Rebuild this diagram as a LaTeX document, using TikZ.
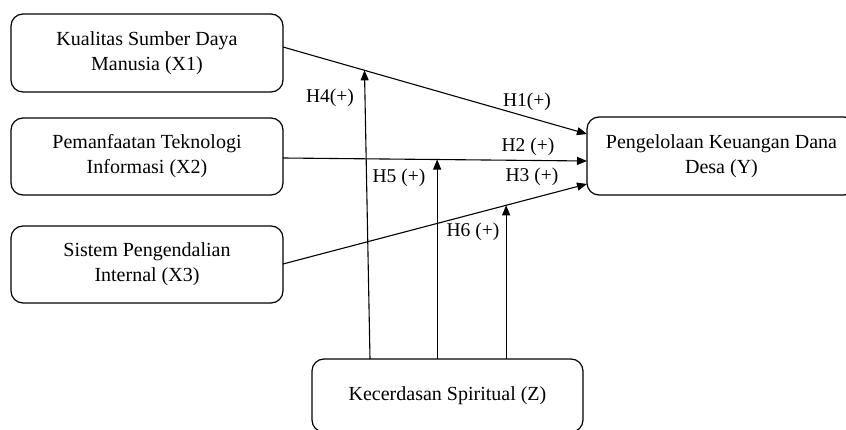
\documentclass[tikz,border=0pt]{standalone}
\usepackage{fontspec}
\setmainfont{Liberation Serif}
\usetikzlibrary{arrows.meta,calc}
\tikzset{
  varbox/.style={draw, line width=1.2pt, rounded corners=12pt, inner sep=0pt, outer sep=0pt,
    align=center, font=\fontsize{20}{25}\selectfont},
  arr/.style={line width=1.1pt, -{Triangle[length=10pt,width=8pt]}},
  hlabel/.style={font=\fontsize{19.5}{24}\selectfont, inner sep=0pt}
}
\begin{document}
\begin{tikzpicture}[x=1pt,y=-1pt]
\useasboundingbox (0,0) rectangle (846,430);
\begin{scope}
\clip (0,0) rectangle (846,430);
\node[varbox, minimum width=272pt, minimum height=78pt] (X1) at (147,53) {Kualitas Sumber Daya\\Manusia (X1)};
\node[varbox, minimum width=272pt, minimum height=77pt] (X2) at (147,156.5) {Pemanfaatan Teknologi\\Informasi (X2)};
\node[varbox, minimum width=272pt, minimum height=77pt] (X3) at (147,264.5) {Sistem Pengendalian\\Internal (X3)};
\node[varbox, minimum width=269pt, minimum height=78pt] (Y) at (721.5,156) {Pengelolaan Keuangan Dana\\Desa (Y)};
\node[varbox, minimum width=271pt, minimum height=73pt] (Z) at (447.5,395.5) {Kecerdasan Spiritual (Z)};

\draw[arr] ([yshift=6pt]X1.east) -- ([yshift=22pt]Y.west) coordinate[pos=0.268] (p1);
\draw[arr] ([yshift=-1.5pt]X2.east) -- ([yshift=-5pt]Y.west) coordinate[pos=0.507] (p2);
\draw[arr] ([yshift=0.5pt]X3.east) -- ([yshift=-28pt]Y.west) coordinate[pos=0.734] (p3);

\draw[arr] ([xshift=-77.5pt]Z.north) -- (p1);
\draw[arr] (Z.north -| p2) -- (p2);
\draw[arr] (Z.north -| p3) -- (p3);
\end{scope}

\node[hlabel] (h4) at (330,98) {H4(+)};
\node[hlabel] (h1) at (527,102) {H1(+)};
\node[hlabel] (h2) at (528,147) {H2 (+)};
\node[hlabel] (h5) at (399,178) {H5 (+)};
\node[hlabel] (h3) at (532,177) {H3 (+)};
\node[hlabel] (h6) at (473,232) {H6 (+)};
\end{tikzpicture}
\end{document}
